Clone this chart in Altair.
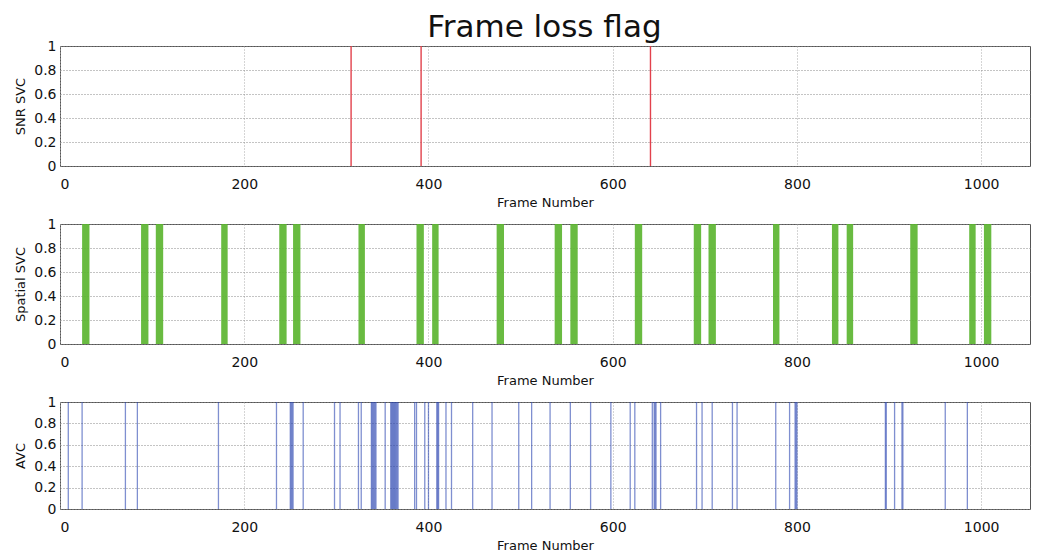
import altair as alt
import pandas as pd

# Frame loss flags
snr_lost = [316, 392, 641]

spatial_start = [24, 88, 104, 175, 238, 253, 324, 387, 404, 474, 537, 554, 624, 688, 704, 774, 838, 854, 923, 987, 1003]
spatial_end   = [32, 96, 112, 182, 246, 261, 331, 395, 411, 482, 545, 562, 632, 696, 712, 781, 845, 861, 931, 994, 1011]

avc_lost = [9, 24, 71, 84, 172, 235, 250, 251, 252, 253, 264, 298, 304, 324, 327,
            338, 339, 340, 341, 342, 343, 353, 359, 360, 361, 362, 363, 364, 365, 366, 367,
            385, 387, 396, 400, 409, 410, 411, 419, 425, 448, 469, 498, 512, 532, 554,
            576, 598, 619, 624, 643, 645, 646, 647, 652, 691, 697, 708, 730, 735, 777,
            792, 798, 799, 800, 896, 897, 906, 914, 915, 961, 985]

x_ticks = [0, 200, 400, 600, 800, 1000]
y_ticks = [0, 0.2, 0.4, 0.6, 0.8, 1]
X_MAX = 1053

FONT = "DejaVu Sans"
W = 970

def xenc(field):
    return alt.X(field, type="quantitative",
                 scale=alt.Scale(domain=[0, X_MAX], nice=False, zero=False),
                 axis=alt.Axis(values=x_ticks, title="Frame Number", format="d",
                               labelFontSize=14, titleFontSize=13, titleFontWeight="normal",
                               labelPadding=11, titlePadding=5, ticks=False,
                               grid=True, gridDash=[1, 2], gridColor="#aaaaaa",
                               domain=False, labelFont=FONT, titleFont=FONT,
                               labelColor="#111", titleColor="#111"))

def yenc(field, title):
    return alt.Y(field, type="quantitative",
                 scale=alt.Scale(domain=[0, 1], nice=False),
                 axis=alt.Axis(values=y_ticks, title=title, format="~g",
                               labelFontSize=14, titleFontSize=13, titleFontWeight="normal",
                               labelPadding=4, titlePadding=6, ticks=False,
                               grid=True, gridDash=[1, 2], gridColor="#888888",
                               domain=False, labelFont=FONT, titleFont=FONT,
                               labelColor="#111", titleColor="#111"))

snr_df = pd.DataFrame({"frame": snr_lost, "top": 1, "bot": 0})
sp_df = pd.DataFrame({"start": spatial_start, "end": spatial_end, "top": 1, "bot": 0})
avc_df = pd.DataFrame({"frame": avc_lost, "top": 1, "bot": 0})

p1 = alt.Chart(snr_df).mark_rule(color="#e2414c", strokeWidth=1.4).encode(
    x=xenc("frame"), y=yenc("top", "SNR SVC"), y2="bot:Q"
).properties(width=W, height=120)

p2 = alt.Chart(sp_df).mark_rect(color="#5cb531", opacity=0.92).encode(
    x=xenc("start"), x2="end:Q", y=yenc("top", "Spatial SVC"), y2="bot:Q"
).properties(width=W, height=120)

p3 = alt.Chart(avc_df).mark_rule(color="#2a44b0", strokeWidth=1.3, opacity=0.6).encode(
    x=xenc("frame"), y=yenc("top", "AVC"), y2="bot:Q"
).properties(width=W, height=107)

chart = alt.vconcat(p1, p2, p3, spacing=6).properties(
    title=alt.TitleParams("Frame loss flag", fontSize=31, font=FONT, fontWeight="normal",
                          color="#111", anchor="middle", offset=-5, dx=22),
    padding={"left": 6, "top": 3, "right": 0, "bottom": 0}
).configure_view(stroke="#555555", strokeWidth=1)

chart.save("out.html", embed_options={"renderer": "svg", "actions": False})
